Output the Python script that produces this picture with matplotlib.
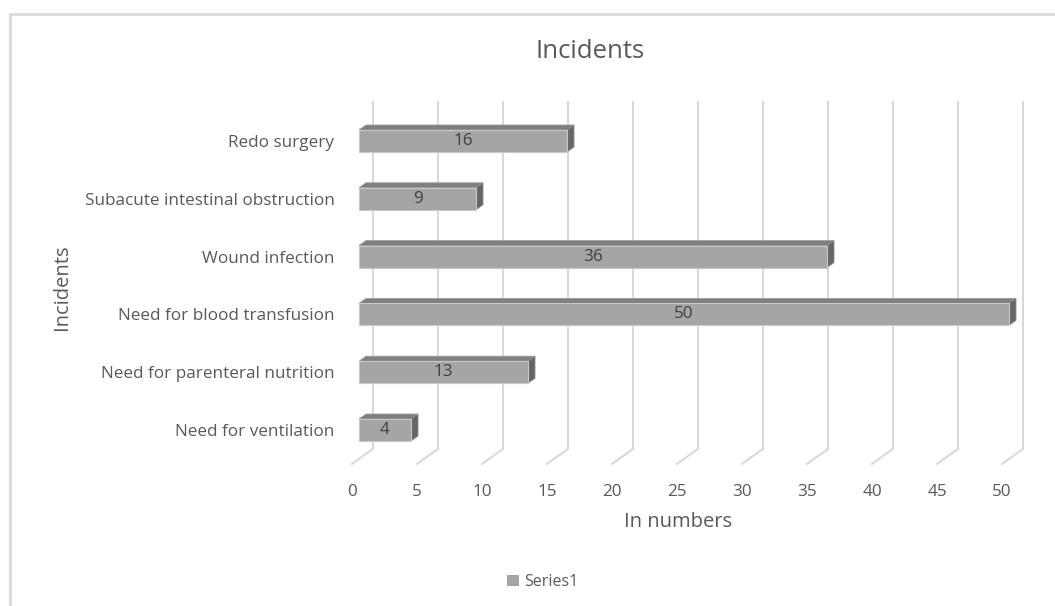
import matplotlib.pyplot as plt
from matplotlib.patches import Polygon, Rectangle, Patch

plt.rcParams['font.family'] = ['Open Sans', 'DejaVu Sans']

# data (bottom to top)
categories = ["Need for ventilation", "Need for parenteral nutrition",
              "Need for blood transfusion", "Wound infection",
              "Subacute intestinal obstruction", "Redo surgery"]
values = [4, 13, 50, 36, 9, 16]
x_ticks = [0, 5, 10, 15, 20, 25, 30, 35, 40, 45, 50]

TEXT = '#595959'
GRID = '#d9d9d9'
FRONT = '#a5a5a5'
TOP = '#7f7f7f'
SIDE = '#666666'

# fake 3d: offset from the back wall to the front edge of the floor (data units)
DX = -21 / 13
DY = -15 / 57.8
BAR_H = 0.38
F, B = 2 / 3, 1 / 3  # depth of bar front / back faces

W, H = 1055, 606
fig = plt.figure(figsize=(W / 100, H / 100), dpi=100)

# plot area in pixels -> axes
px_l, px_r, px_t, px_b = 340, 1040, 90, 470
ax = fig.add_axes([px_l / W, 1 - px_b / H, (px_r - px_l) / W, (px_b - px_t) / H])
ax.set_xlim((px_l - 373) / 13, (px_r - 373) / 13)
ax.set_ylim((420 - px_b) / 57.8, (420 - px_t) / 57.8)
for s in ax.spines.values():
    s.set_visible(False)

ymin, ymax = -0.5, 5.5
# back wall gridlines and floor lines
for v in x_ticks:
    ax.plot([v, v], [ymin, ymax], color=GRID, lw=1.5, zorder=1)
    ax.plot([v, v + DX], [ymin, ymin + DY], color=GRID, lw=1.5, zorder=1)

# bars
for i, v in enumerate(values):
    xf, xb = F * DX, B * DX
    yf, yb = i + F * DY, i + B * DY
    bot_f, top_f = yf - BAR_H / 2, yf + BAR_H / 2
    bot_b, top_b = yb - BAR_H / 2, yb + BAR_H / 2
    top = Polygon([(xf, top_f), (v + xf, top_f), (v + xb, top_b), (xb, top_b)],
                  closed=True, fc=TOP, ec='#9a9a9a', lw=0.6, zorder=3)
    side = Polygon([(v + xf, bot_f), (v + xf, top_f), (v + xb, top_b), (v + xb, bot_b)],
                   closed=True, fc=SIDE, ec='#8a8a8a', lw=0.6, zorder=3)
    front = Rectangle((xf, bot_f), v, BAR_H, fc=FRONT, ec='#c8c8c8', lw=0.8, zorder=4)
    for p in (top, side, front):
        ax.add_patch(p)
    ax.text(v / 2 + xf, yf, str(v), ha='center', va='center', fontsize=12.3,
            color='#404040', zorder=5)

ax.set_yticks([i + F * DY for i in range(len(categories))])
ax.set_yticklabels(categories)
ax.set_xticks([v + DX for v in x_ticks])
ax.set_xticklabels([str(v) for v in x_ticks])
ax.tick_params(axis='both', length=0, labelsize=12.3, labelcolor=TEXT)
ax.tick_params(axis='y', pad=4)
ax.tick_params(axis='x', pad=10)

fig.text(590 / W, 1 - 52 / H, "Incidents", ha='center', va='center', fontsize=18.5, color=TEXT)
fig.text(62 / W, 1 - 287 / H, "Incidents", ha='center', va='center', rotation=90,
         fontsize=14.5, color=TEXT)
fig.text(678 / W, 1 - 522 / H, "In numbers", ha='center', va='center', fontsize=14.5, color=TEXT)

fig.legend(handles=[Patch(fc=FRONT, ec='none', label='Series1')], loc='center',
           bbox_to_anchor=(543 / W, 1 - 582 / H), frameon=False, fontsize=11.5,
           handlelength=0.75, handleheight=0.75, handletextpad=0.3, labelcolor=TEXT)

# chart border
fig.add_artist(Rectangle((10 / W, -0.05), 1.2, 1 - 14 / H + 0.05, transform=fig.transFigure,
                         fill=False, ec=GRID, lw=2))

fig.savefig('out.png', dpi=100)
